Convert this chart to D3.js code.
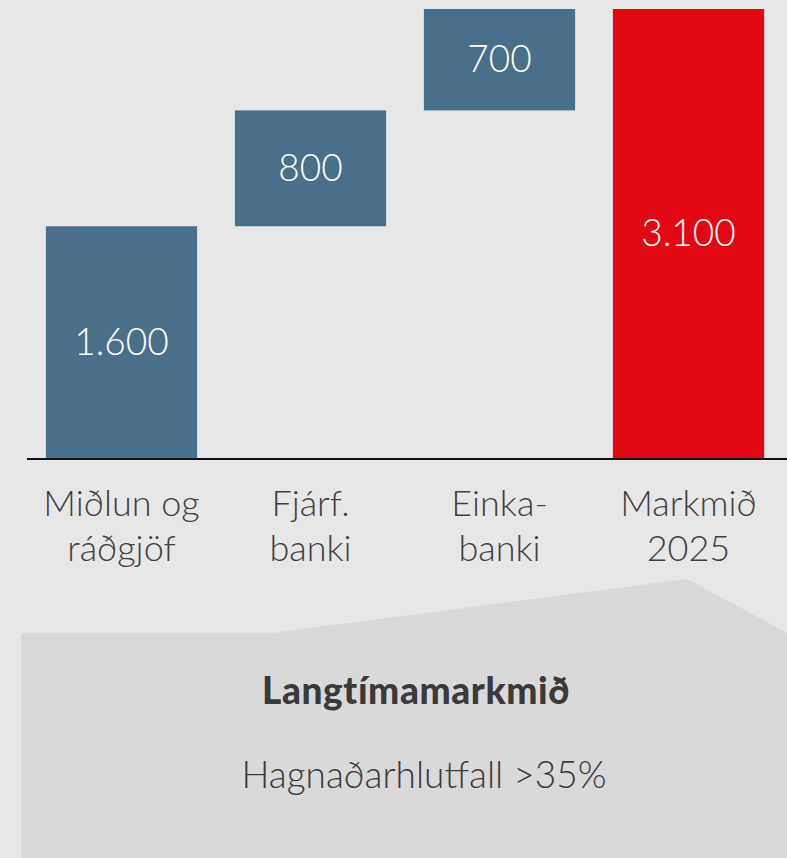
<!DOCTYPE html>
<html><head><meta charset="utf-8">
<script src="https://cdn.jsdelivr.net/npm/d3@7"></script>
<style>html,body{margin:0;padding:0;background:#e7e7e7;}svg{display:block;}</style>
</head><body>
<script>
const categories = [["Miðlun og","ráðgjöf"],["Fjárf.","banki"],["Einka-","banki"],["Markmið","2025"]];
const values = [1600, 800, 700, 3100];
const valueLabels = ["1.600","800","700","3.100"];
const isTotal = [false, false, false, true];
const panelTitle = "Langtímamarkmið";
const panelText = "Hagnaðarhlutfall >35%";

const W = 787, H = 858;
const svg = d3.select("body").append("svg").attr("width", W).attr("height", H);
svg.append("rect").attr("width", W).attr("height", H).attr("fill", "#e7e7e7");

let run = 0;
const bars = values.map((v, i) => {
  let y0, y1;
  if (isTotal[i]) { y0 = 0; y1 = v; }
  else { y0 = run; y1 = run + v; run = y1; }
  return {i, v, y0, y1, label: valueLabels[i], cat: categories[i], total: isTotal[i]};
});

const x = d3.scaleBand().domain(d3.range(values.length)).range([27, 783]).paddingInner(0.2).paddingOuter(0.1);
const y = d3.scaleLinear().domain([0, 3100]).range([458, 9]);

svg.selectAll("rect.bar").data(bars).enter().append("rect")
  .attr("class","bar")
  .attr("x", d => x(d.i)).attr("width", x.bandwidth())
  .attr("y", d => y(d.y1)).attr("height", d => y(d.y0) - y(d.y1))
  .attr("fill", d => d.total ? "#e30613" : "#48708a");

svg.selectAll("text.val").data(bars).enter().append("text")
  .attr("x", d => x(d.i) + x.bandwidth()/2)
  .attr("y", d => (y(d.y0) + y(d.y1))/2)
  .attr("dy", "0.34em")
  .attr("text-anchor","middle")
  .attr("fill","#fff")
  .style("font-family","Lato, sans-serif").style("font-weight",300).style("font-size","37px")
  .text(d => d.label);

svg.append("line").attr("x1", 27).attr("x2", 787).attr("y1", y(0)+1).attr("y2", y(0)+1)
  .attr("stroke","#111").attr("stroke-width",2);

const cat = svg.selectAll("text.cat").data(bars).enter().append("text")
  .attr("text-anchor","middle").attr("fill","#404040")
  .style("font-family","Lato, sans-serif").style("font-weight",300).style("font-size","36px");
cat.each(function(d){
  const t = d3.select(this);
  d.cat.forEach((line, k) => {
    t.append("tspan").attr("x", x(d.i) + x.bandwidth()/2).attr("y", 516 + k*45).text(line);
  });
});

const panel = [[21,858],[21,633],[272,633],[687,579],[787,633],[787,858]];
svg.append("path").attr("d", d3.line()(panel) + "Z").attr("fill","#d9d9d9");

svg.append("text").attr("x", 416).attr("y", 704).attr("text-anchor","middle")
  .attr("fill","#3a3a3a").style("font-family","Lato, sans-serif").style("font-weight",900).style("font-size","37px")
  .style("letter-spacing","0.6px")
  .text(panelTitle);
svg.append("text").attr("x", 424).attr("y", 788).attr("text-anchor","middle")
  .attr("fill","#3a3a3a").style("font-family","Lato, sans-serif").style("font-weight",300).style("font-size","37px")
  .text(panelText);
</script>
</body></html>
